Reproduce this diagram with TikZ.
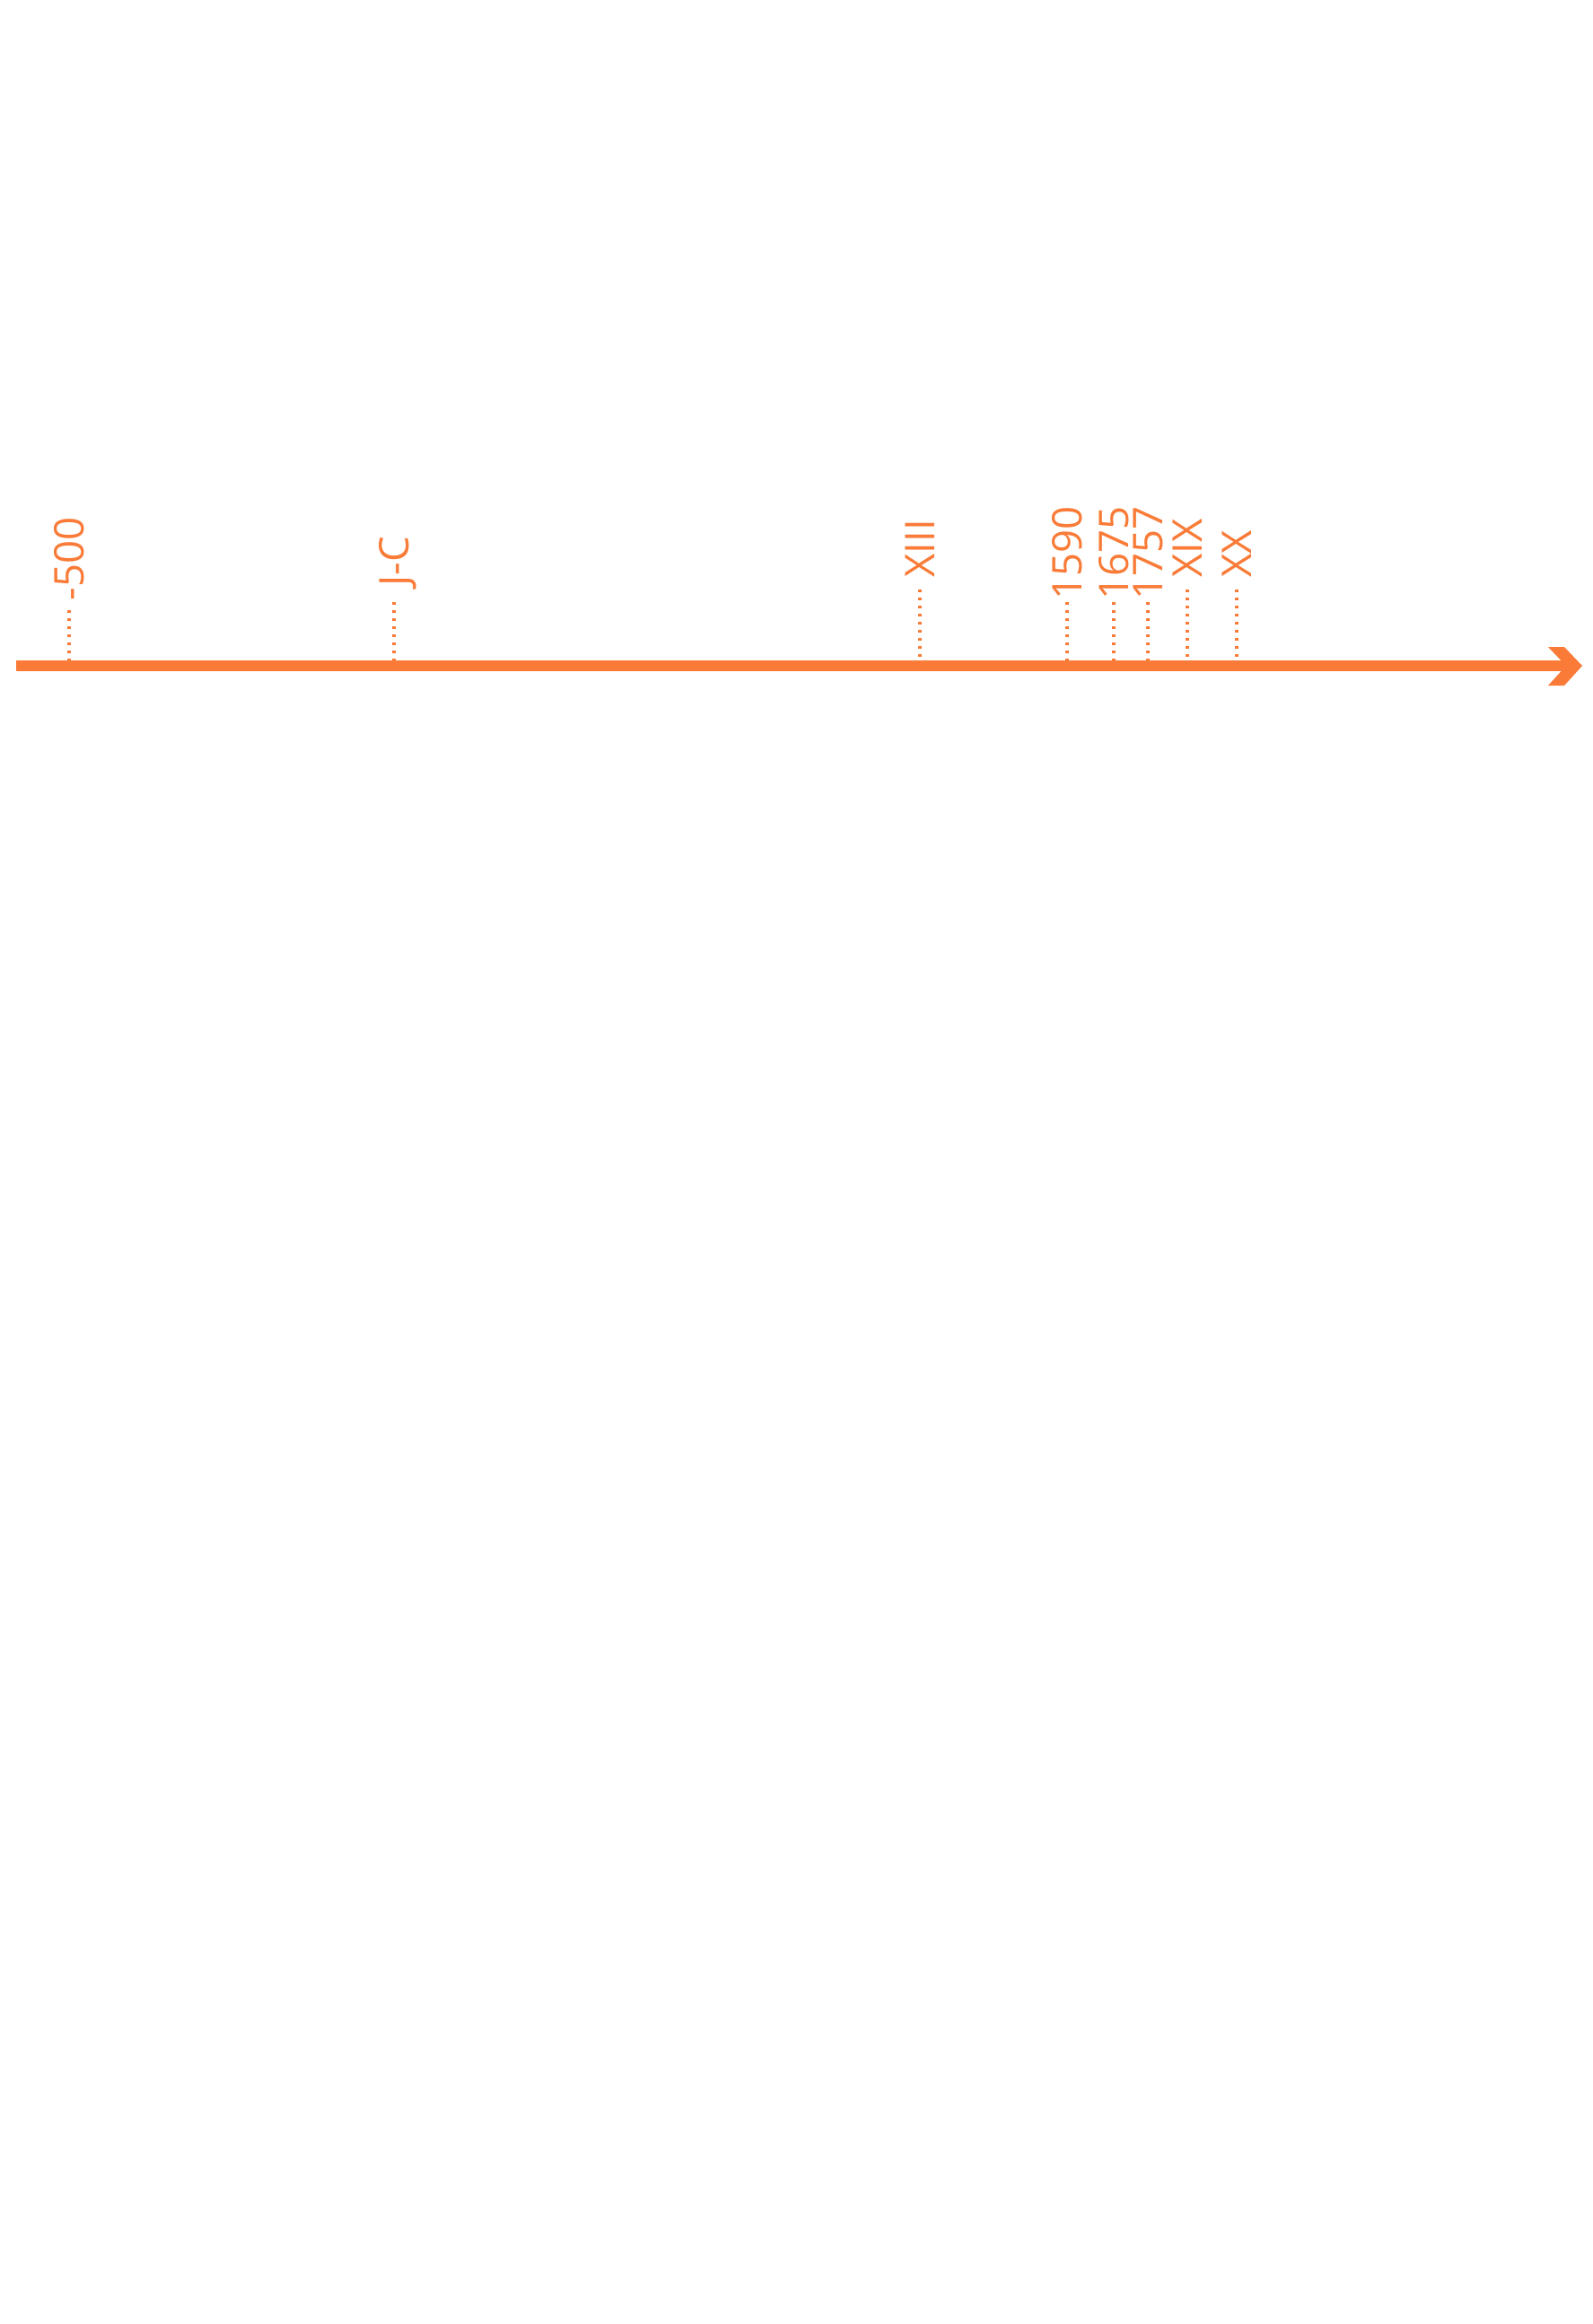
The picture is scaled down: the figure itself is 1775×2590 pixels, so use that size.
\documentclass[tikz,border=0pt]{standalone}
\usepackage{fontspec}
\setmainfont{Open Sans}
\usepackage{tikz}

\definecolor{tlorange}{HTML}{F97B37}

\tikzset{
  axis/.style={tlorange, line width=6.4pt},
  tick/.style={tlorange, line width=1.9pt, dash pattern=on 1.7pt off 2.8pt},
  date/.style={tlorange, rotate=90, anchor=west, inner sep=0pt,
    text height=16.4pt, text depth=0pt,
    font=\fontsize{22.8}{27}\selectfont},
}

\begin{document}
\begin{tikzpicture}[x=0.5pt,y=-0.5pt]
      \useasboundingbox[fill=white] (0,0) rectangle (1775,2590);
      \coordinate (start) at (18,742);
      \coordinate (end) at (1745,742);
      % dotted ticks
      \coordinate (t500) at (77,680);
      \coordinate (tjc) at (439,671);
      \coordinate (txiii) at (1025,657);
      \coordinate (t1590) at (1189,671);
      \coordinate (t1675) at (1241,671);
      \coordinate (t1757) at (1279,671);
      \coordinate (txix) at (1323,657);
      \coordinate (txx) at (1378,657);
      \draw[tick] (t500) -- (t500 |- start);
      \draw[tick] (tjc) -- (tjc |- start);
      \draw[tick, shorten >=5pt] (txiii) -- (txiii |- start);
      \draw[tick] (t1590) -- (t1590 |- start);
      \draw[tick] (t1675) -- (t1675 |- start);
      \draw[tick] (t1757) -- (t1757 |- start);
      \draw[tick, shorten >=5pt] (txix) -- (txix |- start);
      \draw[tick, shorten >=5pt] (txx) -- (txx |- start);
      % the axis
      \draw[axis] (start) -- (end);
      \fill[tlorange] (1725,721) -- (1743,721) -- (1763,742) -- (1743,764)
        -- (1725,764) -- (1745,742) -- cycle;
      % labels
      \node[date] (l500) at (77,670) {-500};
      \node[date] (ljc) at (439,654) {J-C};
      \node[date] (lxiii) at (1025,644) {XIII};
      \node[date] (l1590) at (1189,669) {1590};
      \node[date] (l1675) at (1241,669) {1675};
      \node[date] (l1757) at (1279,669) {1757};
      \node[date] (lxix) at (1323,644) {XIX};
      \node[date] (lxx) at (1378,644) {XX};
  \end{tikzpicture}
\end{document}
